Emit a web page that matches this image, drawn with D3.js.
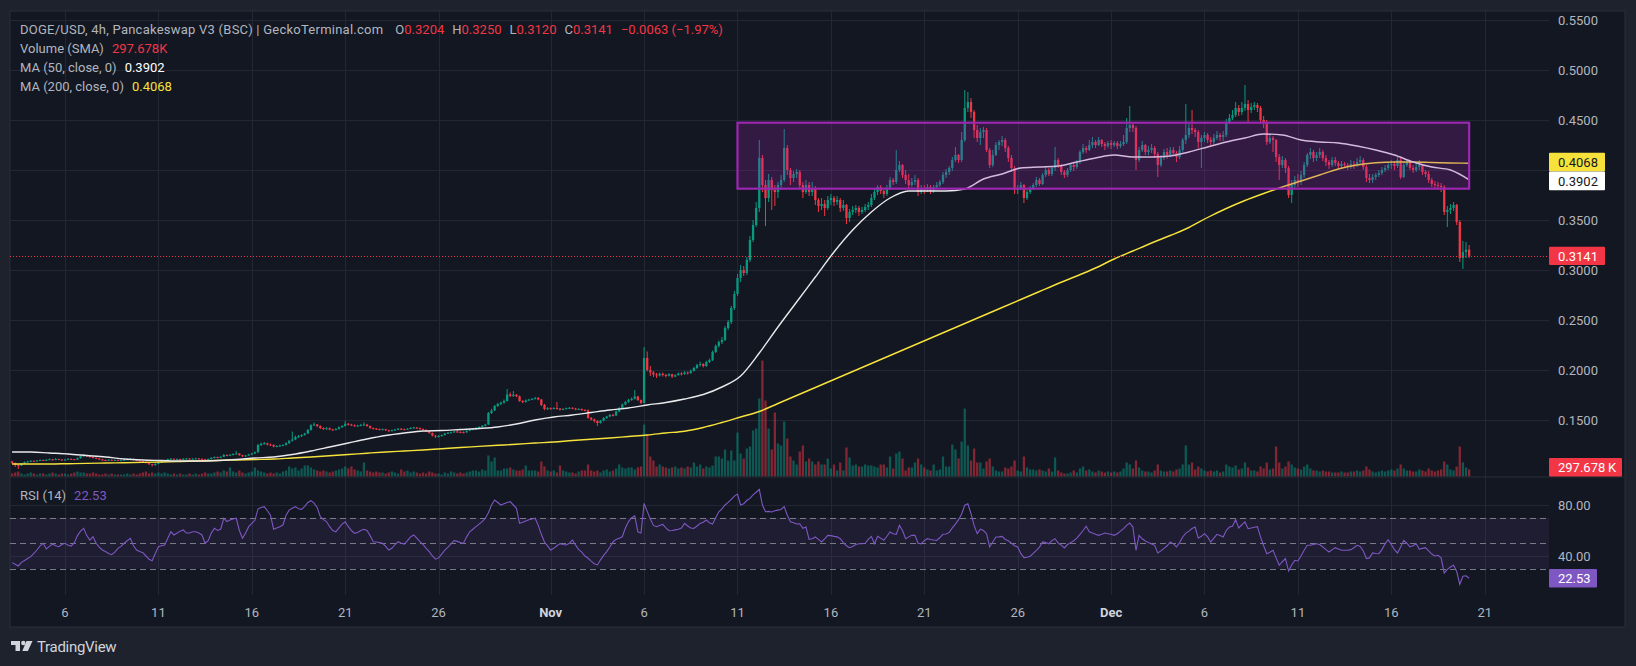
<!DOCTYPE html>
<html><head><meta charset="utf-8">
<script src="https://cdn.jsdelivr.net/npm/d3@7"></script>
<style>
html,body{margin:0;padding:0;background:#1e222d;overflow:hidden;}
svg{display:block;}
text{font-family:Roboto,"Noto Sans",sans-serif;}
</style></head><body>
<svg id="c" width="1636" height="666"></svg>
<script>
// ---------------- DATA ----------------
const startTime = "2024-10-03T04:00:00Z";   // first 4h bar
const barHours = 4;
const firstOpen = 0.1085;
const closes = [
.1070,.1050,.1045,.1065,.1080,
.1085,.1092,.1088,.1095,.1100,.1097,
.1102,.1108,.1100,.1110,.1105,.1100,
.1105,.1112,.1108,.1103,.1118,.1140,
.1145,.1138,.1130,.1122,.1115,.1105,
.1100,.1095,.1102,.1096,.1100,.1094,
.1098,.1102,.1108,.1112,.1100,.1095,
.1090,.1082,.1070,.1058,.1048,.1062,
.1075,.1085,.1095,.1108,.1112,.1108,
.1110,.1106,.1112,.1115,.1110,.1113,
.1116,.1112,.1108,.1102,.1110,.1122,
.1130,.1126,.1132,.1150,.1145,.1152,
.1160,.1165,.1148,.1138,.1145,.1155,
.1165,.1178,.1250,.1262,.1268,.1255,
.1250,.1235,.1240,.1245,.1250,.1268,
.1292,.1305,.1330,.1338,.1350,.1365,
.1400,.1448,.1455,.1440,.1420,.1412,
.1418,.1405,.1402,.1410,.1428,.1440,
.1462,.1455,.1448,.1440,.1445,.1450,
.1455,.1440,.1420,.1415,.1410,.1405,
.1408,.1398,.1390,.1398,.1405,.1412,
.1408,.1405,.1412,.1420,.1425,.1418,
.1410,.1402,.1388,.1370,.1345,.1335,
.1340,.1350,.1365,.1372,.1378,.1385,
.1380,.1378,.1376,.1392,.1405,.1412,
.1422,.1430,.1442,.1455,.1570,.1595,
.1640,.1660,.1672,.1690,.1755,.1740,
.1752,.1738,.1690,.1680,.1695,.1705,
.1712,.1722,.1705,.1650,.1610,.1618,
.1612,.1620,.1615,.1602,.1610,.1618,
.1622,.1615,.1605,.1610,.1600,.1598,
.1520,.1505,.1490,.1470,.1492,.1520,
.1535,.1550,.1545,.1585,.1620,.1655,
.1680,.1700,.1712,.1735,.1700,.1670,
.2120,.2000,.1975,.1955,.1945,.1962,
.1950,.1942,.1958,.1935,.1948,.1965,
.1960,.1975,.1970,.1990,.2020,.2050,
.2060,.2040,.2080,.2100,.2180,.2240,
.2280,.2300,.2420,.2480,.2620,.2760,
.2920,.3000,.2970,.3100,.3300,.3450,
.3620,.4120,.3850,.3720,.3900,.3800,
.3780,.3850,.3900,.4220,.4000,.3920,
.3960,.3980,.3850,.3780,.3850,.3780,
.3820,.3700,.3640,.3660,.3620,.3700,
.3720,.3680,.3700,.3620,.3650,.3520,
.3580,.3600,.3620,.3580,.3600,.3630,
.3650,.3720,.3780,.3830,.3790,.3760,
.3820,.3900,.3880,.4000,.4050,.3950,
.3900,.3850,.3880,.3900,.3780,.3820,
.3800,.3830,.3790,.3830,.3850,.3880,
.3950,.3980,.4020,.4100,.4150,.4100,
.4300,.4620,.4680,.4580,.4400,.4320,
.4380,.4400,.4200,.4050,.4150,.4250,
.4280,.4300,.4220,.4120,.4020,.3800,
.3820,.3850,.3720,.3780,.3820,.3850,
.3900,.3860,.3950,.4000,.3960,.4020,
.4100,.4050,.3980,.3950,.4000,.4050,
.4030,.4080,.4180,.4220,.4200,.4250,
.4280,.4250,.4300,.4260,.4240,.4270,
.4250,.4270,.4240,.4260,.4280,.4420,
.4450,.4420,.4100,.4200,.4250,.4180,
.4200,.4220,.4160,.4050,.4120,.4180,
.4150,.4200,.4170,.4130,.4200,.4300,
.4350,.4420,.4400,.4380,.4280,.4320,
.4350,.4300,.4280,.4320,.4350,.4330,
.4350,.4480,.4520,.4550,.4620,.4580,
.4620,.4660,.4600,.4630,.4650,.4620,
.4500,.4480,.4280,.4320,.4300,.4130,
.4050,.4100,.4020,.3750,.3850,.3900,
.3880,.3950,.4050,.4150,.4180,.4120,
.4150,.4180,.4120,.4080,.4050,.4100,
.4070,.4040,.4060,.4050,.4030,.4060,
.4050,.4080,.4100,.4030,.3920,.3900,
.3930,.3950,.3970,.4000,.4020,.4050,
.4060,.4040,.4100,.3930,.4050,.4080,
.4020,.4000,.4030,.4050,.3980,.3960,
.3900,.3860,.3850,.3840,.3830,.3580,
.3600,.3620,.3650,.3480,.3120,.3180,
.3204,.3141];
const highs = [
.1092,.1075,.1058,.1070,.1085,
.1092,.1098,.1095,.1100,.1106,.1104,
.1108,.1115,.1110,.1120,.1112,.1108,
.1110,.1118,.1115,.1110,.1125,.1148,
.1158,.1150,.1140,.1133,.1125,.1118,
.1112,.1104,.1108,.1106,.1106,.1104,
.1104,.1108,.1115,.1120,.1114,.1104,
.1100,.1094,.1086,.1074,.1062,.1068,
.1080,.1090,.1100,.1114,.1120,.1116,
.1116,.1114,.1118,.1120,.1118,.1118,
.1122,.1120,.1116,.1112,.1116,.1128,
.1136,.1134,.1138,.1160,.1156,.1160,
.1168,.1190,.1168,.1152,.1150,.1162,
.1172,.1185,.1262,.1275,.1280,.1272,
.1264,.1258,.1248,.1252,.1258,.1278,
.1300,.1385,.1345,.1350,.1358,.1372,
.1410,.1458,.1475,.1460,.1448,.1428,
.1428,.1425,.1412,.1418,.1436,.1448,
.1492,.1470,.1462,.1455,.1452,.1462,
.1478,.1462,.1445,.1425,.1420,.1415,
.1415,.1412,.1402,.1404,.1412,.1420,
.1420,.1414,.1418,.1428,.1432,.1430,
.1425,.1415,.1406,.1392,.1375,.1352,
.1348,.1356,.1372,.1380,.1384,.1392,
.1392,.1388,.1385,.1398,.1412,.1420,
.1430,.1438,.1450,.1462,.1580,.1612,
.1650,.1672,.1685,.1705,.1810,.1775,
.1790,.1760,.1745,.1698,.1705,.1712,
.1718,.1730,.1728,.1710,.1660,.1628,
.1625,.1628,.1680,.1620,.1618,.1625,
.1630,.1628,.1622,.1618,.1615,.1608,
.1605,.1530,.1515,.1498,.1500,.1528,
.1542,.1560,.1562,.1598,.1630,.1665,
.1692,.1712,.1725,.1800,.1742,.1705,
.2230,.2185,.2040,.1990,.1970,.1975,
.1975,.1962,.1968,.1962,.1958,.1975,
.1980,.1990,.1985,.2005,.2032,.2062,
.2085,.2068,.2092,.2115,.2195,.2255,
.2295,.2330,.2440,.2500,.2640,.2790,
.2960,.3050,.3040,.3130,.3340,.3500,
.3680,.4300,.4150,.3900,.3960,.3930,
.3850,.3880,.3950,.4410,.4250,.4020,
.3990,.4010,.4000,.3880,.3900,.3880,
.3880,.3840,.3720,.3720,.3700,.3740,
.3760,.3740,.3740,.3720,.3700,.3660,
.3610,.3640,.3650,.3640,.3630,.3660,
.3680,.3760,.3810,.3850,.3850,.3800,
.3850,.3930,.3920,.4200,.4090,.4060,
.4000,.3960,.3920,.3950,.3920,.3850,
.3850,.3860,.3850,.3850,.3880,.3900,
.3980,.4010,.4040,.4130,.4230,.4160,
.4380,.4800,.4780,.4720,.4600,.4450,
.4420,.4430,.4420,.4220,.4200,.4280,
.4300,.4340,.4320,.4240,.4150,.4040,
.3850,.3880,.3860,.3800,.3840,.3870,
.3930,.3920,.3970,.4030,.4020,.4040,
.4230,.4120,.4060,.4000,.4020,.4070,
.4080,.4100,.4200,.4260,.4240,.4300,
.4330,.4300,.4330,.4310,.4280,.4290,
.4300,.4290,.4290,.4290,.4350,.4520,
.4640,.4480,.4440,.4230,.4290,.4260,
.4240,.4260,.4240,.4180,.4150,.4210,
.4220,.4230,.4230,.4190,.4240,.4320,
.4660,.4460,.4600,.4420,.4400,.4350,
.4380,.4370,.4330,.4360,.4390,.4370,
.4390,.4510,.4560,.4600,.4680,.4650,
.4680,.4850,.4700,.4670,.4680,.4670,
.4640,.4540,.4500,.4360,.4340,.4310,
.4160,.4140,.4120,.4040,.3900,.3940,
.3960,.3990,.4080,.4170,.4220,.4200,
.4180,.4220,.4200,.4150,.4100,.4130,
.4130,.4090,.4090,.4080,.4070,.4100,
.4090,.4120,.4140,.4120,.4050,.3960,
.3960,.3970,.4000,.4030,.4050,.4080,
.4100,.4090,.4130,.4120,.4080,.4100,
.4100,.4050,.4070,.4100,.4060,.4000,
.3990,.3920,.3890,.3880,.3870,.3850,
.3640,.3660,.3680,.3660,.3500,.3290,
.3280,.3250];
const lows = [
.1062,.1030,.1010,.1040,.1060,
.1076,.1082,.1084,.1086,.1092,.1092,
.1092,.1098,.1095,.1098,.1100,.1094,
.1095,.1100,.1102,.1098,.1100,.1114,
.1132,.1130,.1124,.1116,.1108,.1098,
.1094,.1088,.1090,.1090,.1092,.1088,
.1088,.1094,.1098,.1104,.1096,.1088,
.1084,.1076,.1064,.1050,.1036,.1044,
.1058,.1070,.1080,.1090,.1102,.1100,
.1102,.1100,.1102,.1108,.1104,.1106,
.1108,.1106,.1102,.1096,.1098,.1106,
.1116,.1118,.1120,.1128,.1138,.1140,
.1146,.1154,.1142,.1130,.1132,.1140,
.1148,.1160,.1172,.1240,.1252,.1245,
.1240,.1226,.1228,.1232,.1238,.1244,
.1260,.1285,.1298,.1320,.1330,.1344,
.1360,.1395,.1440,.1428,.1410,.1400,
.1402,.1398,.1394,.1396,.1404,.1422,
.1435,.1445,.1440,.1432,.1434,.1438,
.1440,.1432,.1412,.1405,.1400,.1396,
.1398,.1390,.1382,.1386,.1392,.1400,
.1402,.1398,.1400,.1408,.1414,.1410,
.1404,.1396,.1380,.1362,.1336,.1320,
.1325,.1334,.1345,.1360,.1366,.1374,
.1372,.1370,.1368,.1372,.1388,.1398,
.1405,.1416,.1425,.1436,.1452,.1560,
.1590,.1630,.1650,.1665,.1685,.1730,
.1730,.1728,.1682,.1668,.1674,.1690,
.1698,.1705,.1698,.1640,.1598,.1600,
.1604,.1606,.1605,.1595,.1598,.1606,
.1610,.1608,.1598,.1600,.1592,.1590,
.1512,.1495,.1475,.1440,.1465,.1488,
.1510,.1528,.1535,.1540,.1578,.1615,
.1648,.1672,.1692,.1705,.1690,.1660,
.1665,.1985,.1940,.1930,.1920,.1935,
.1935,.1925,.1935,.1920,.1928,.1945,
.1945,.1952,.1955,.1962,.1985,.2010,
.2035,.2025,.2030,.2070,.2090,.2170,
.2225,.2260,.2290,.2400,.2460,.2600,
.2740,.2880,.2940,.2950,.3080,.3280,
.3430,.3580,.3780,.3440,.3680,.3600,
.3640,.3720,.3800,.3880,.3950,.3850,
.3880,.3920,.3820,.3720,.3760,.3740,
.3740,.3650,.3580,.3600,.3540,.3600,
.3650,.3640,.3650,.3580,.3590,.3460,
.3480,.3550,.3570,.3540,.3560,.3580,
.3600,.3630,.3700,.3750,.3760,.3720,
.3740,.3800,.3850,.3860,.3980,.3920,
.3860,.3820,.3830,.3850,.3740,.3760,
.3760,.3780,.3760,.3770,.3810,.3830,
.3860,.3920,.3950,.3990,.4080,.4070,
.4080,.4280,.4580,.4520,.4320,.4280,
.4250,.4320,.4180,.4020,.4030,.4140,
.4200,.4240,.4180,.4080,.3980,.3760,
.3760,.3800,.3670,.3700,.3760,.3800,
.3830,.3840,.3850,.3930,.3940,.3940,
.3990,.4020,.3950,.3920,.3930,.3980,
.3990,.4010,.4060,.4160,.4170,.4190,
.4220,.4220,.4240,.4230,.4200,.4220,
.4210,.4230,.4210,.4220,.4240,.4260,
.4380,.4380,.4000,.4080,.4180,.4150,
.4150,.4170,.4120,.3930,.4030,.4100,
.4110,.4130,.4140,.4080,.4110,.4180,
.4260,.4320,.4360,.4330,.4220,.4020,
.4280,.4270,.4240,.4260,.4300,.4290,
.4290,.4330,.4460,.4500,.4530,.4540,
.4550,.4590,.4470,.4570,.4600,.4580,
.4460,.4420,.4250,.4260,.4180,.4080,
.3900,.4020,.3970,.3720,.3670,.3820,
.3830,.3850,.3920,.4030,.4110,.4080,
.4090,.4120,.4090,.4040,.4010,.4030,
.4040,.4010,.4020,.4020,.4000,.4010,
.4010,.4030,.4060,.4000,.3880,.3870,
.3870,.3900,.3930,.3950,.3980,.4000,
.4010,.4000,.4020,.3910,.3920,.4030,
.4000,.3970,.3980,.4000,.3950,.3930,
.3870,.3830,.3820,.3800,.3780,.3550,
.3430,.3560,.3590,.3450,.3080,.3010,
.3120,.3120];
// volume in thousands
const volumes = [
128,170,213,128,85,
128,170,128,85,128,128,
85,128,170,128,85,128,
128,85,128,170,213,170,
170,128,128,170,128,85,
85,128,85,128,85,85,
85,85,128,85,128,85,
128,170,213,128,170,128,
170,128,170,128,85,128,
85,128,85,85,128,85,
128,85,128,170,128,128,
170,213,170,255,213,383,
213,170,255,170,128,170,
213,383,255,213,170,128,
170,128,170,128,213,255,
425,340,383,255,340,468,
468,383,298,255,213,255,
213,170,213,255,298,340,
425,340,425,298,255,213,
595,255,213,170,213,170,
170,128,170,213,170,128,
298,213,255,170,213,170,
128,170,128,213,170,128,
128,85,170,128,213,170,
128,170,128,170,213,255,
255,213,298,255,893,638,
808,255,255,340,340,383,
298,255,255,298,468,255,
255,255,213,638,425,255,
213,255,170,468,255,213,
170,170,128,213,255,255,
510,255,213,255,170,255,
298,213,255,340,510,383,
340,383,383,298,383,425,
2210,1785,850,680,425,510,
425,383,340,383,425,340,
383,340,425,383,595,425,
510,340,425,383,468,850,
850,765,1148,680,1105,680,
1870,978,765,1190,1275,1955,
2040,3315,4930,3230,2040,1148,
2720,1403,1318,2338,1615,850,
680,510,1063,1318,638,765,
638,510,638,510,510,765,
340,510,255,595,255,1233,
808,468,510,425,425,510,
468,468,425,383,510,510,
383,850,340,978,1063,765,
255,383,383,595,765,510,
383,298,255,510,255,298,
850,425,425,1360,1148,765,
1488,2890,1318,680,1190,595,
595,340,638,765,425,255,
213,213,383,340,425,680,
255,213,850,383,298,298,
255,298,255,213,340,213,
808,255,170,128,128,170,
255,170,340,425,255,298,
213,170,255,213,170,213,
170,213,170,213,340,595,
510,340,680,383,255,213,
213,170,255,510,255,213,
213,255,213,298,340,510,
1318,510,595,298,425,340,
255,213,255,213,255,170,
213,510,425,383,468,298,
340,595,383,255,255,213,
425,340,595,298,340,1275,
595,340,425,638,510,383,
340,298,425,510,340,255,
255,213,255,213,213,170,
170,170,213,170,170,213,
213,255,213,255,425,298,
213,170,213,255,213,255,
298,255,340,510,340,255,
255,213,213,298,255,213,
340,255,213,255,298,638,
510,298,255,425,1275,595,
383,298];
const rsi = [
34.8,33.5,32.2,35,36.5,
38,39.5,42,44.7,48,50,
45.5,47.5,49.4,48,47.3,49,
50,48.5,47.8,50.5,56,59.5,
61.7,56,52.5,55.1,50,47,
44.7,43.5,42,41,43,46,
47.5,50,52,53.9,48,44.7,
43.5,42.6,40,37.5,36.3,42,
47.3,48,48.6,54,59,56.5,
58,59.5,60.4,58,58,59,
59,58,56.5,50,52,58,
61.7,60,61,69.6,67,68.2,
69,69.6,60,53.9,58,63,
65.5,68,77,78,78.7,75.5,
72,61,62,63,64.3,72,
76,77.5,78.7,77,76.6,79,
82,83.4,81.5,78,70.8,68.5,
67,63,60,59,62,65,
66.9,63,60,57.8,58.5,60,
61,60,56,51.2,51,50.5,
50,47.5,44.7,46,49,51.2,
50,49.4,52,55,56.5,54,
51.2,49,46,43.4,40,37.5,
38.5,41.5,44.7,47,49.5,52,
51.5,50.5,50,55,59,61,
63,65,67,69.6,74,80,
83.9,82,80,81,82,82.6,
80,77.4,65.6,66.5,67.5,68.5,
69,69.6,64,57,51,48,
44.7,46,48,49.7,49,48.6,
50,52.5,48.5,45,43,40,
38.2,36,34,33,37,40.5,
43.4,47,51,53,54,55.1,
62,67,70,71.4,59,58,
81.3,75,69,64,63,64,
64.8,62,59.8,60,60.5,61,
62,65.6,63.5,62,61.7,63.5,
65.6,66.5,68.2,66,65,70,
74.7,77,80,82,84.5,87,
88.6,80,81,83.5,85.2,88,
90,92.3,80,74.7,75,74.5,
75.5,76,76.5,78.7,72,66.9,
66,65.1,65.3,61.7,62.7,53.1,
53.5,54.9,53,51,53.5,56.2,
56,55.4,55,53.6,50.5,48,
46.5,47.5,49,49.6,49.6,50,
53,55.4,49.6,55.4,54,52.3,
55.5,58.8,57.5,57,64.1,60,
53.6,55,56.2,56.2,50,49.5,
52,53.6,53,52.5,52.3,54.5,
57,57.2,58.5,62,65,68.5,
73,79.8,81,73.2,64,57.5,
61,60,57.5,47.1,51,54.9,
55,55.4,53,52,50,48,
47.1,42,38.7,39,39.8,42,
44.5,47,51,50.5,49.6,52,
53.6,50.2,48.5,46.3,49,50.5,
52,54,57,60,63.3,59,
58,57,56.2,57,58,57.5,
57,56.2,57.5,59.5,61.4,64,
65.9,62.7,44.5,56.2,53.5,51.8,
50.5,49.5,48.4,42.4,44,46,
48,51,49.5,47.1,50.5,54.9,
58,59.5,61.5,62.7,54,55.5,
57.5,55,51,54,57,56,
54.9,60,62.7,63.3,68.5,62,
64.5,66.7,61.4,62,62.5,63,
55,48,41.8,43,44.5,38.5,
32.7,35.5,37.9,28.2,33,36.6,
36.1,40,44.5,48.4,48.4,49,
49.6,49,47.1,45,43.1,45,
46.5,45.5,44.5,44.5,44.5,45,
46.5,48.4,47.5,44,38,38.5,
42.4,42,41.8,45,49.6,52.8,
49,45,42.4,47,52.3,50,
47.1,48,49.6,45.2,46,46.5,
44,41.5,40,40.6,38.5,26.7,
29.5,31.4,32.7,28,17.8,24.1,
24.5,22.53];
// moving averages, one reading every 6 bars (daily, 04:00 bar)
const maStep = 6;
const ma50 = [.118,.118,.117,.116,.1145,.113,.111,.110,.1095,.109,.109,.1095,.1105,.112,.113,.1155,.119,.123,.127,.131,
.1345,.137,.139,.1395,.1405,.1415,.143,.146,.150,.153,.155,.1575,.160,.162,.165,.1675,.171,.1755,.183,.194,
.217,.243,.268,.293,.318,.340,.358,.372,.379,.379,.379,.381,.391,.396,.402,.403,.404,.408,.412,.415,
.413,.413,.414,.418,.423,.428,.432,.436,.435,.430,.428,.427,.424,.420,.415,.408,.403,.400,.3902];
const ma200 = [.106,.106,.106,.1063,.1066,.107,.1073,.1076,.108,.1085,.109,.1095,.110,.1105,.111,.112,.113,.1143,.1155,.1168,
.118,.119,.120,.1213,.1225,.1236,.1247,.1258,.127,.128,.1295,.1307,.132,.1335,.135,.137,.1388,.1425,.1475,.153,
.1585,.1665,.1745,.1825,.1905,.1985,.2065,.2145,.2225,.2305,.2385,.2465,.2545,.2625,.2705,.2785,.2865,.294,.302,.311,
.319,.327,.3345,.3425,.3525,.3615,.3695,.3765,.383,.389,.395,.401,.405,.4072,.408,.408,.4075,.407,.4068];
const volumeSMA = 297.678; // K
const priceTicks = [0.15,0.20,0.25,0.30,0.35,0.40,0.45,0.50,0.55];
const rsiGridTicks = [80,40];
const rsiLevels = [70,50,30];
const rsiBand = [30,70];
const timeTicks = ["2024-10-06","2024-10-11","2024-10-16","2024-10-21","2024-10-26","2024-11-01","2024-11-06","2024-11-11",
"2024-11-16","2024-11-21","2024-11-26","2024-12-01","2024-12-06","2024-12-11","2024-12-16","2024-12-21"];
const timeTickLabels = ["6","11","16","21","26","Nov","6","11","16","21","26","Dec","6","11","16","21"];
const monthLabels = ["Nov","Dec"];
const boxStart = "2024-11-11T00:00:00Z", boxEnd = "2024-12-20T04:00:00Z";
const boxTop = 0.4473, boxBottom = 0.3813;
const titleText = "DOGE/USD, 4h, Pancakeswap V3 (BSC) | GeckoTerminal.com";
const ohlcLabels = ["O","H","L","C"];
const ohlcValues = ["0.3204","0.3250","0.3120","0.3141"];
const changeText = "\u22120.0063 (\u22121.97%)";
const legendRows = [["Volume (SMA)","297.678K","#f23645"],["MA (50, close, 0)","0.3902","#ffffff"],["MA (200, close, 0)","0.4068","#f7e23b"]];

// ---------------- LAYOUT ----------------
const C = {bg:"#131722", outer:"#1e222d", border:"#2a2e39", grid:"#232733", text:"#b2b5be",
  up:"#089981", down:"#f23645", volUp:"rgba(8,153,129,0.5)", volDown:"rgba(242,54,69,0.5)",
  ma50:"#e9e9ec", ma200:"#f7e23b", rsi:"#7e57c2"};
const F = {x0:10, y0:11, x1:1625, y1:627};
const plotX1 = 1549, mainY0 = 11, mainY1 = 476.5, rsiY0 = 477.5, rsiY1 = 595;

const svg = d3.select("#c");
const N = closes.length;
const T0 = Date.parse(startTime);
const times = closes.map((_, i) => new Date(T0 + i * barHours * 3600e3));
const opens = closes.map((c, i) => i === 0 ? firstOpen : closes[i - 1]);

const x = d3.scaleUtc().domain([new Date(Date.UTC(2024,9,6)), new Date(Date.UTC(2024,11,21))]).range([65, 1484.7]);
const y = d3.scaleLinear().domain([0.10, 0.55]).range([470, 20]);
const vy = d3.scaleLinear().domain([0, 5000]).range([mainY1, mainY1 - 117.6]);
const ry = d3.scaleLinear().domain([30, 80]).range([568.75, 505]);

// frame
svg.append("rect").attr("width",1636).attr("height",666).attr("fill",C.outer);
svg.append("rect").attr("x",F.x0).attr("y",F.y0).attr("width",F.x1-F.x0).attr("height",F.y1-F.y0)
  .attr("fill",C.bg).attr("stroke",C.border).attr("stroke-width",1);

const defs = svg.append("defs");
defs.append("clipPath").attr("id","clipMain").append("rect").attr("x",F.x0).attr("y",mainY0).attr("width",plotX1-F.x0).attr("height",mainY1-mainY0);
defs.append("clipPath").attr("id","clipRsi").append("rect").attr("x",F.x0).attr("y",rsiY0).attr("width",plotX1-F.x0).attr("height",rsiY1-rsiY0);

// grid
const tickDates = timeTicks.map(s => new Date(s + "T00:00:00Z"));
const grid = svg.append("g");
grid.selectAll("line.v1").data(tickDates).join("line")
  .attr("x1", d => Math.round(x(d)) + 0.5).attr("x2", d => Math.round(x(d)) + 0.5)
  .attr("y1", mainY0).attr("y2", mainY1).attr("stroke", C.grid);
grid.selectAll("line.v2").data(tickDates).join("line")
  .attr("x1", d => Math.round(x(d)) + 0.5).attr("x2", d => Math.round(x(d)) + 0.5)
  .attr("y1", rsiY0).attr("y2", rsiY1).attr("stroke", C.grid);
grid.selectAll("line.h").data(priceTicks).join("line")
  .attr("x1", F.x0).attr("x2", plotX1).attr("y1", d => Math.round(y(d)) + 0.5).attr("y2", d => Math.round(y(d)) + 0.5)
  .attr("stroke", C.grid);
grid.selectAll("line.hr").data(rsiGridTicks).join("line")
  .attr("x1", F.x0).attr("x2", plotX1).attr("y1", d => Math.round(ry(d)) + 0.5).attr("y2", d => Math.round(ry(d)) + 0.5)
  .attr("stroke", C.grid);
// pane separator
svg.append("line").attr("x1",F.x0).attr("x2",F.x1).attr("y1",477).attr("y2",477).attr("stroke",C.border);

// main pane
const gm = svg.append("g").attr("clip-path","url(#clipMain)");
const bw = 2.3;
gm.selectAll("rect.vol").data(d3.range(N)).join("rect")
  .attr("x", i => x(times[i]) - bw/2).attr("width", bw)
  .attr("y", i => vy(volumes[i])).attr("height", i => vy(0) - vy(volumes[i]))
  .attr("fill", i => closes[i] >= opens[i] ? C.volUp : C.volDown);
gm.selectAll("rect.wick").data(d3.range(N)).join("rect")
  .attr("x", i => x(times[i]) - 0.5).attr("width", 1)
  .attr("y", i => y(Math.max(highs[i], opens[i], closes[i])))
  .attr("height", i => Math.max(1, y(Math.min(lows[i], opens[i], closes[i])) - y(Math.max(highs[i], opens[i], closes[i]))))
  .attr("fill", i => closes[i] >= opens[i] ? C.up : C.down);
gm.selectAll("rect.body").data(d3.range(N)).join("rect")
  .attr("x", i => x(times[i]) - bw/2).attr("width", bw)
  .attr("y", i => y(Math.max(opens[i], closes[i])))
  .attr("height", i => Math.max(1, Math.abs(y(opens[i]) - y(closes[i]))))
  .attr("fill", i => closes[i] >= opens[i] ? C.up : C.down);

const maIdx = ma50.map((_, k) => Math.min(k * maStep, N - 1));
const maLine = arr => d3.line().x((d, k) => x(times[maIdx[k]])).y(d => y(d)).curve(d3.curveMonotoneX)(arr);
gm.append("path").attr("d", maLine(ma200)).attr("fill","none").attr("stroke",C.ma200).attr("stroke-width",1.4);
gm.append("path").attr("d", maLine(ma50)).attr("fill","none").attr("stroke",C.ma50).attr("stroke-width",1.4);

// rectangle drawing
const bx0 = x(new Date(boxStart)), bx1 = x(new Date(boxEnd));
gm.append("rect").attr("x", bx0).attr("y", y(boxTop)).attr("width", bx1 - bx0).attr("height", y(boxBottom) - y(boxTop))
  .attr("fill","rgba(156,39,176,0.24)").attr("stroke","#9c27b0").attr("stroke-width",2.2);

// last price line
const lastY = y(closes[N-1]);
gm.append("line").attr("x1",F.x0).attr("x2",plotX1).attr("y1",Math.round(lastY)+0.5).attr("y2",Math.round(lastY)+0.5)
  .attr("stroke",C.down).attr("stroke-dasharray","1 2");

// RSI pane
const gr = svg.append("g").attr("clip-path","url(#clipRsi)");
gr.append("rect").attr("x",F.x0).attr("width",plotX1-F.x0).attr("y",ry(rsiBand[1])).attr("height",ry(rsiBand[0])-ry(rsiBand[1]))
  .attr("fill","rgba(126,87,194,0.1)");
gr.selectAll("line.lv").data(rsiLevels).join("line")
  .attr("x1",F.x0).attr("x2",plotX1).attr("y1",d=>Math.round(ry(d))+0.5).attr("y2",d=>Math.round(ry(d))+0.5)
  .attr("stroke","#787b86").attr("stroke-dasharray","6 4");
gr.append("path").attr("d", d3.line().x((d,i)=>x(times[i])).y(d=>ry(d))(rsi))
  .attr("fill","none").attr("stroke",C.rsi).attr("stroke-width",1.1);

// value labels positions on the price scale (computed first so covered tick labels are skipped)
const lh = 18.7;
let c200 = y(ma200[ma200.length-1]), c50 = y(ma50[ma50.length-1]);
if (c50 - c200 < lh) { const m = (c50 + c200)/2; c200 = m - lh/2; c50 = m + lh/2; }
const coveredBy = [[c200 - lh/2, c50 + lh/2]];

// axes text
const fs = 13;
svg.append("g").selectAll("text").data(priceTicks.filter(p => !coveredBy.some(r => y(p) > r[0] && y(p) < r[1]))).join("text")
  .attr("x",1558).attr("y",d=>y(d)).attr("dy","0.36em").attr("fill",C.text).attr("font-size",fs)
  .text(d=>d3.format(".4f")(d));
svg.append("g").selectAll("text").data(rsiGridTicks).join("text")
  .attr("x",1558).attr("y",d=>ry(d)).attr("dy","0.36em").attr("fill",C.text).attr("font-size",fs)
  .text(d=>d3.format(".2f")(d));
svg.append("g").selectAll("text").data(tickDates).join("text")
  .attr("x",d=>x(d)).attr("y",612).attr("dy","0.36em").attr("text-anchor","middle").attr("font-size",fs)
  .attr("fill",(d,i)=>monthLabels.includes(timeTickLabels[i])?"#d1d4dc":C.text)
  .attr("font-weight",(d,i)=>monthLabels.includes(timeTickLabels[i])?"bold":"normal")
  .text((d,i)=>timeTickLabels[i]);

const lab = (cy, w, fill, txt, tcol, h) => {
  h = h || 18.4;
  svg.append("rect").attr("x",1549).attr("y",cy-h/2).attr("width",w).attr("height",h).attr("fill",fill).attr("rx",1);
  svg.append("text").attr("x",1558).attr("y",cy).attr("dy","0.36em").attr("font-size",fs).attr("fill",tcol).text(txt);
};
lab(c200, 56, C.ma200, d3.format(".4f")(ma200[ma200.length-1]), "#131722", lh);
lab(c50, 56, "#ffffff", d3.format(".4f")(ma50[ma50.length-1]), "#131722", lh);
lab(lastY, 56, C.down, d3.format(".4f")(closes[N-1]), "#ffffff");
lab(Math.min(vy(volumeSMA), mainY1 - 9.2), 73, C.down, "297.678\u2009K", "#ffffff");
lab(ry(rsi[N-1]), 48, C.rsi, d3.format(".2f")(rsi[N-1]), "#ffffff");

// legend
const t1 = svg.append("text").attr("x",20).attr("y",29.5).attr("dy","0.36em").attr("font-size",13).attr("fill",C.text);
t1.append("tspan").attr("letter-spacing","0.24").text(titleText);
ohlcLabels.forEach((l,i)=>{
  t1.append("tspan").attr("dx", i===0?12:8).attr("fill",C.text).text(l);
  t1.append("tspan").attr("fill",C.down).text(ohlcValues[i]);
});
t1.append("tspan").attr("dx",8).attr("fill",C.down).text(changeText);
legendRows.forEach((r,k)=>{
  const t = svg.append("text").attr("x",20).attr("y",48+k*19.2).attr("dy","0.36em").attr("font-size",13).attr("fill",C.text);
  t.append("tspan").text(r[0]);
  t.append("tspan").attr("dx",8).attr("fill",r[2]).text(r[1]);
});
const tr = svg.append("text").attr("x",20).attr("y",495).attr("dy","0.36em").attr("font-size",13).attr("fill",C.text);
tr.append("tspan").text("RSI (14)");
tr.append("tspan").attr("dx",8).attr("fill",C.rsi).text(d3.format(".2f")(rsi[N-1]));

// TradingView logo
const lg = svg.append("g").attr("fill","#d1d4dc");
lg.append("path").attr("d","M11 641h9v10h-4.5v-6H11z");
lg.append("circle").attr("cx",23.3).attr("cy",643).attr("r",2.2);
lg.append("path").attr("d","M26.5 641h6l-4.6 10h-5.6z");
svg.append("text").attr("x",37).attr("y",646.5).attr("dy","0.36em").attr("font-size",15).attr("fill","#d1d4dc")
  .attr("letter-spacing","-0.3").text("TradingView");
</script></body></html>
